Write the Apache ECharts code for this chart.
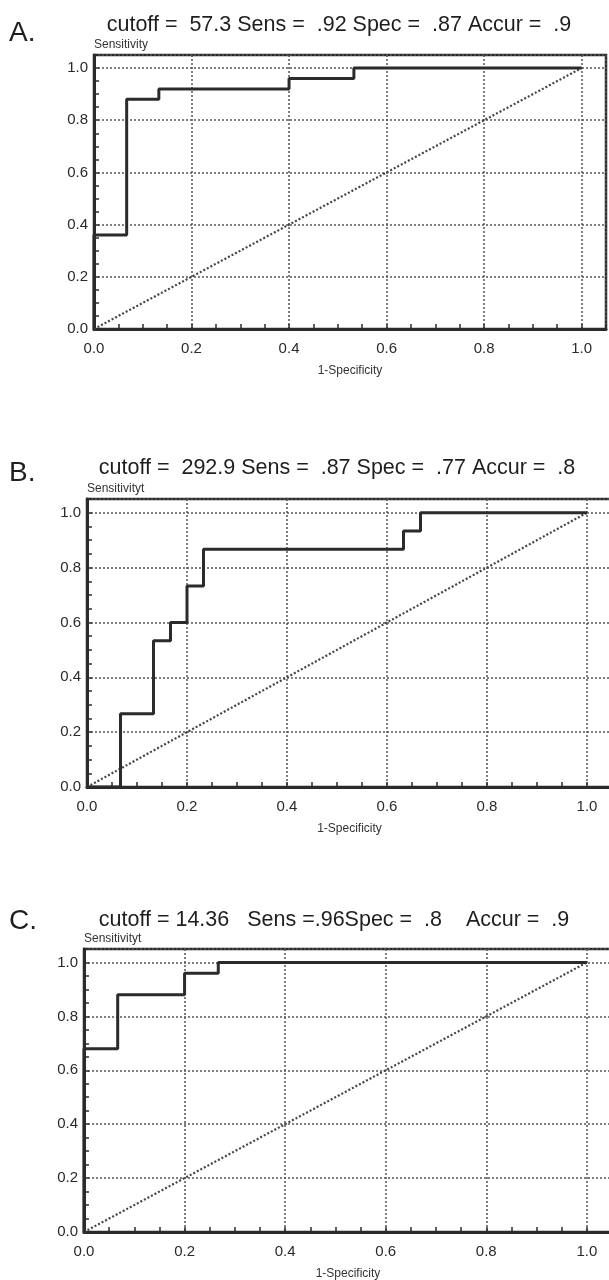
<!DOCTYPE html>
<html><head><meta charset="utf-8">
<script src="https://cdn.jsdelivr.net/npm/echarts@6/dist/echarts.min.js"></script>
<style>html,body{margin:0;padding:0;background:#fff}#c{width:609px;height:1280px}</style>
</head><body><div id="c"></div>
<script>
// ---- data ----
const tickValues = [0, 0.2, 0.4, 0.6, 0.8, 1.0];
const fprA = [0, 0, 0.067, 0.133, 0.4, 0.533, 1.0];
const tprA = [0, 0.36, 0.88, 0.92, 0.96, 1.0, 1.0];
const fprB = [0, 0.067, 0.133, 0.167, 0.2, 0.233, 0.633, 0.667, 1.0];
const tprB = [0, 0.267, 0.533, 0.6, 0.733, 0.867, 0.933, 1.0, 1.0];
const fprC = [0, 0, 0.067, 0.2, 0.267, 1.0];
const tprC = [0, 0.68, 0.88, 0.96, 1.0, 1.0];
const diagX = [0, 1];
const diagY = [0, 1];
const panelLetters = ['A.', 'B.', 'C.'];
const panelTitles = [
  'cutoff =  57.3 Sens =  .92 Spec =  .87 Accur =  .9',
  'cutoff =  292.9 Sens =  .87 Spec =  .77 Accur =  .8',
  'cutoff = 14.36   Sens =.96Spec =  .8    Accur =  .9'
];
const yNames = ['Sensitivity', 'Sensitivityt', 'Sensitivityt'];
const xName = '1-Specificity';

// ---- layout ----
const grids = [
  {left: 94, top: 55, width: 512, height: 274},
  {left: 87, top: 499, width: 525, height: 288},
  {left: 84, top: 949, width: 528, height: 283}
];
const titlePos = [
  {cx: 334, top: 9, ltop: 14},
  {cx: 332, top: 452, ltop: 454},
  {cx: 329, top: 904, ltop: 902}
];
const rocX = [fprA, fprB, fprC];
const rocY = [tprA, tprB, tprC];
const zip = (a, b) => a.map((v, i) => [v, b[i]]);
const ink = '#2b2b2b';
const fmt = v => tickValues.some(t => Math.abs(t - v) < 1e-6) ? v.toFixed(1) : '';

const title = [], xAxis = [], yAxis = [], series = [];
grids.forEach((g, i) => {
  title.push({
    text: panelTitles[i], left: titlePos[i].cx, top: titlePos[i].top, textAlign: 'center',
    textStyle: {fontFamily: 'Liberation Sans', fontSize: 21.5, fontWeight: 'normal', color: '#1e1e1e'}
  });
  title.push({
    text: panelLetters[i], left: 4, top: titlePos[i].ltop,
    textStyle: {fontFamily: 'Liberation Sans', fontSize: 28, fontWeight: 'normal', color: '#1e1e1e'}
  });
  const axisCommon = {
    type: 'value', gridIndex: i, min: 0, max: 1.05, interval: 0.2,
    axisLine: {show: true, onZero: false, lineStyle: {color: ink, width: 3}},
    axisTick: {show: true, inside: true, length: 5, lineStyle: {color: ink, width: 1.5}},
    minorTick: {show: true, splitNumber: 4, length: 5, lineStyle: {color: ink, width: 1.5}},
    splitLine: {show: true, lineStyle: {type: [2, 2], color: '#555', width: 1.5}},
    axisLabel: {formatter: fmt, fontFamily: 'Liberation Sans', fontSize: 15, color: '#2a2a2a'}
  };
  xAxis.push(Object.assign({}, axisCommon, {
    name: xName, nameLocation: 'middle', nameGap: 36,
    nameTextStyle: {fontFamily: 'Liberation Sans', fontSize: 12, color: '#333'},
    axisLabel: Object.assign({}, axisCommon.axisLabel, {margin: 12})
  }));
  yAxis.push(Object.assign({}, axisCommon, {
    name: yNames[i], nameLocation: 'end', nameGap: 4,
    nameTextStyle: {fontFamily: 'Liberation Sans', fontSize: 12, color: '#333', align: 'left', verticalAlign: 'bottom'},
    axisLabel: Object.assign({}, axisCommon.axisLabel, {margin: 6})
  }));
  series.push({
    type: 'line', xAxisIndex: i, yAxisIndex: i, data: zip(diagX, diagY), symbol: 'none',
    lineStyle: {type: [2, 2], color: '#444', width: 2.2}, silent: true, z: 2
  });
  series.push({
    type: 'line', xAxisIndex: i, yAxisIndex: i, data: zip(rocX[i], rocY[i]), step: 'end', symbol: 'none',
    lineStyle: {color: ink, width: 3}, silent: true, z: 3
  });
});

const chart = echarts.init(document.getElementById('c'));
chart.setOption({
  animation: false,
  backgroundColor: '#fff',
  title: title,
  grid: grids.map(g => Object.assign({show: true, borderColor: ink, borderWidth: 2.5, backgroundColor: 'transparent', outerBoundsMode: 'none', containLabel: false}, g)),
  xAxis: xAxis,
  yAxis: yAxis,
  series: series
});
</script>
</body></html>
